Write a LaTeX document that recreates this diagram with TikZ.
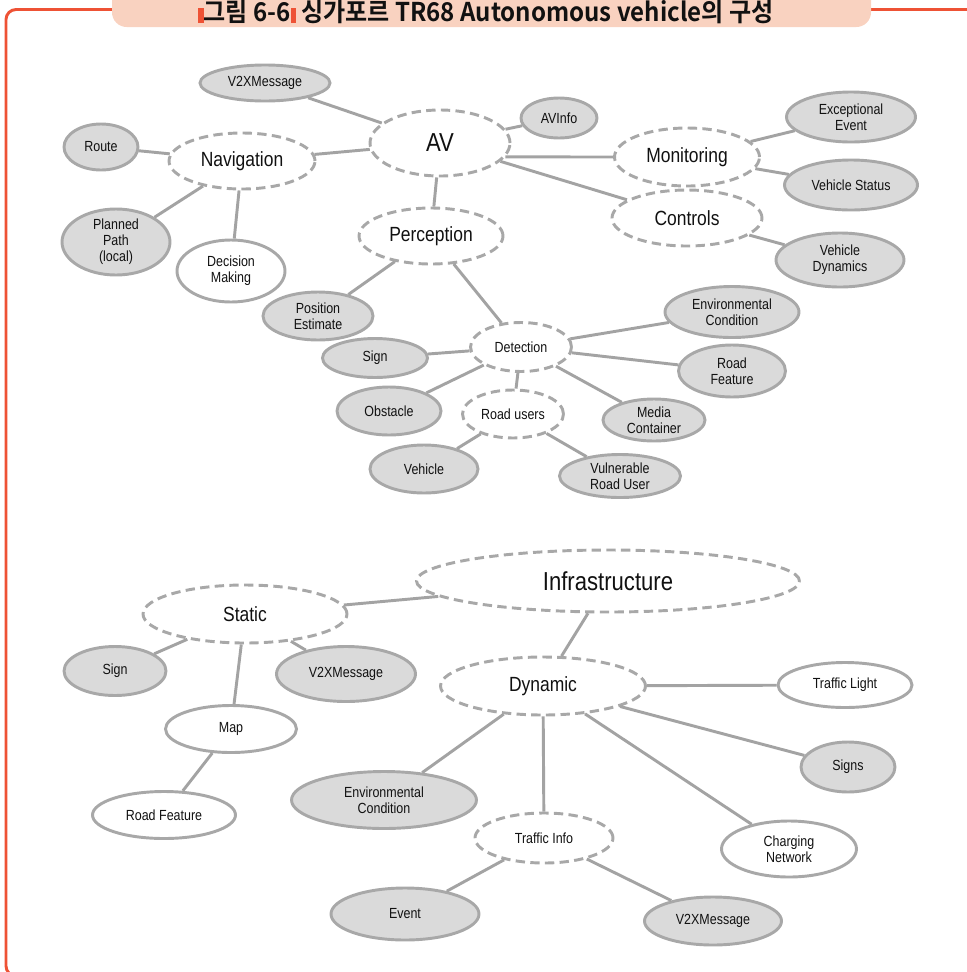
\documentclass[tikz,border=0pt]{standalone}
\usepackage{fontspec}
\usetikzlibrary{shapes.geometric}
\newfontfamily\lbl[FakeStretch=0.85]{Liberation Sans}
\newfontfamily\ttl[FakeStretch=0.93]{Noto Sans CJK KR Bold}
\definecolor{framered}{HTML}{EE5235}
\definecolor{peach}{HTML}{F9D2C0}
\definecolor{rim}{HTML}{A8A8A8}
\definecolor{wire}{HTML}{A3A3A3}
\definecolor{leaffill}{HTML}{DADADA}
\definecolor{ink}{HTML}{111111}
\tikzset{
  sz/.style 2 args={minimum width=#1*0.75pt, minimum height=#2*0.75pt},
  oval/.style={ellipse, draw=rim, line width=2.2pt, inner sep=0pt, align=center,
    text=ink, font=\lbl\fontsize{11}{12}\selectfont},
  leaf/.style={oval, fill=leaffill},
  openleaf/.style={oval, fill=white},
  hub/.style={oval, fill=white, dash pattern=on 7pt off 4pt},
  midfont/.style={font=\lbl\fontsize{15.4}{17}\selectfont},
  bigfont/.style={font=\lbl\fontsize{19.5}{21}\selectfont},
  link/.style={draw=wire, line width=2.2pt},
}
\newcommand{\redbar}{{\color{framered}\rule[-0.05em]{0.2em}{0.58em}}}
\begin{document}
\begin{tikzpicture}[x=0.75pt, y=-0.75pt]
\useasboundingbox (0,0) rectangle (967,972);
\clip (0,0) rectangle (967,972);

% frame and title tab
\draw[framered, line width=2.2pt, rounded corners=7.5pt] (6,9.5) rectangle (1000,976);
\fill[peach, rounded corners=11pt] (112,-30) rectangle (871,27);
\node[anchor=base, inner sep=0pt, text=ink, font=\ttl\fontsize{19.4}{21}\selectfont] (title) at (486,21.5)
  {\redbar 그림 6-6\redbar{} 싱가포르 TR68 Autonomous vehicle의 구성};

% ---- autonomous vehicle tree ----
\node[hub, bigfont, sz={140}{66}] (av) at (440,143) {AV};
\node[leaf, sz={130}{36}] (v2xa) at (265,83) {V2XMessage};
\node[leaf, sz={76}{40}] (avinfo) at (559,118) {AVInfo};
\node[hub, midfont, sz={146}{56}] (nav) at (242,161) {Navigation};
\node[leaf, sz={74}{46}] (route) at (101,147) {Route};
\node[leaf, sz={108}{66}] (ppath) at (116,242) {Planned\\Path\\(local)};
\node[openleaf, sz={108}{62}] (dmak) at (231,271) {Decision\\Making};
\node[hub, midfont, sz={145}{58}] (mon) at (687,157) {Monitoring};
\node[leaf, sz={129}{50}] (exev) at (851,117) {Exceptional\\Event};
\node[leaf, sz={133}{50}] (vstat) at (851,185) {Vehicle Status};
\node[hub, midfont, sz={150}{56}] (ctrl) at (687,218) {Controls};
\node[leaf, sz={128}{54}] (vdyn) at (840,260) {Vehicle\\Dynamics};
\node[hub, midfont, sz={144}{56}] (perc) at (431,236) {Perception};
\node[leaf, sz={110}{48}] (pest) at (318,316) {Position\\Estimate};
\node[hub, sz={101}{49}] (det) at (521,347) {Detection};
\node[leaf, sz={134}{51}] (envt) at (732,312) {Environmental\\Condition};
\node[leaf, sz={107}{52}] (rfeat) at (732,371) {Road\\Feature};
\node[leaf, sz={102}{42}] (media) at (654,420) {Media\\Container};
\node[leaf, sz={105}{39}] (signt) at (375,358) {Sign};
\node[leaf, sz={104}{48}] (obst) at (389,411) {Obstacle};
\node[hub, sz={101}{48}] (rusers) at (513,414) {Road users};
\node[leaf, sz={108}{48}] (veh) at (424,469) {Vehicle};
\node[leaf, sz={121}{43}] (vru) at (620,476) {Vulnerable\\Road User};

\draw[link] (av) -- (v2xa);
\draw[link] (av) -- (avinfo);
\draw[link] (av) -- (nav);
\draw[link] (av.-12.5) -- (mon.180);
\draw[link] (av) -- (ctrl);
\draw[link] (av) -- (perc);
\draw[link] (nav) -- (route);
\draw[link] (nav) -- (ppath);
\draw[link] (nav) -- (dmak);
\draw[link] (mon) -- (exev);
\draw[link] (mon) -- (vstat);
\draw[link] (ctrl) -- (vdyn);
\draw[link] (perc) -- (pest);
\draw[link] (perc) -- (det);
\draw[link] (det) -- (signt);
\draw[link] (det) -- (obst);
\draw[link] (det) -- (rusers);
\draw[link] (det) -- (envt);
\draw[link] (det) -- (rfeat);
\draw[link] (det) -- (media);
\draw[link] (rusers) -- (veh);
\draw[link] (rusers) -- (vru);

% ---- infrastructure tree ----
\node[hub, bigfont, sz={383}{62}] (infra) at (608,581) {Infrastructure};
\node[hub, midfont, sz={204}{58}] (stat) at (245,614) {Static};
\node[leaf, sz={102}{49}] (signb) at (115,671) {Sign};
\node[leaf, sz={139}{55}] (v2xb) at (346,674) {V2XMessage};
\node[openleaf, sz={131}{47}] (map) at (231,729) {Map};
\node[openleaf, sz={143}{47}] (rfb) at (164,815) {Road Feature};
\node[hub, midfont, sz={205}{58}] (dyn) at (543,686) {Dynamic};
\node[leaf, sz={185}{57}] (envb) at (384,800) {Environmental\\Condition};
\node[openleaf, sz={134}{45}] (tlight) at (845,685) {Traffic Light};
\node[leaf, sz={94}{50}] (signs) at (848,767) {Signs};
\node[openleaf, sz={135}{56}] (charge) at (789,849) {Charging\\Network};
\node[hub, sz={138}{50}] (tinfo) at (544,838) {Traffic Info};
\node[leaf, sz={148}{52}] (event) at (405,914) {Event};
\node[leaf, sz={137}{48}] (v2xc) at (713,921) {V2XMessage};

\draw[link] (infra) -- (stat);
\draw[link] (infra) -- (dyn);
\draw[link] (stat) -- (signb);
\draw[link] (stat) -- (v2xb);
\draw[link] (stat) -- (map);
\draw[link] (map) -- (rfb);
\draw[link] (dyn) -- (tlight);
\draw[link] (dyn) -- (signs);
\draw[link] (dyn) -- (envb);
\draw[link] (dyn) -- (tinfo);
\draw[link] (dyn) -- (charge);
\draw[link] (tinfo) -- (event);
\draw[link] (tinfo) -- (v2xc);
\end{tikzpicture}
\end{document}
